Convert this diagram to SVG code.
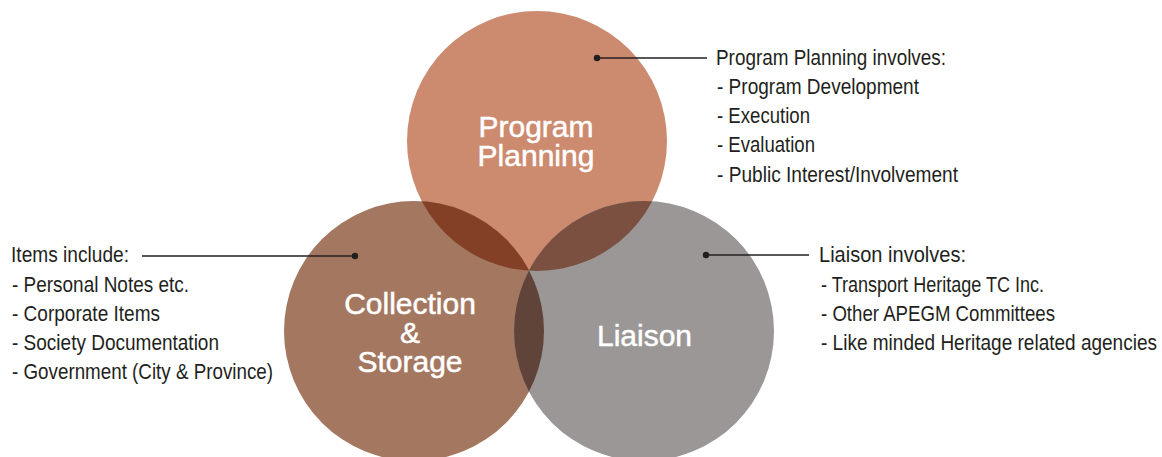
<svg xmlns="http://www.w3.org/2000/svg" width="1162" height="457" viewBox="0 0 1162 457">
<style>
.lbl{font-family:"Liberation Sans",Arial,sans-serif;font-size:30px;fill:#ffffff;stroke:#ffffff;stroke-width:0.5;text-anchor:middle}
.note{font-family:"Liberation Sans",Arial,sans-serif;font-size:22px;fill:#231f20}
.lead{stroke:#231f20;stroke-width:1.6;fill:none}
.dot{fill:#231f20}
</style>
<defs>
<clipPath id="clipA"><circle cx="537" cy="141" r="130"/></clipPath>
<clipPath id="clipB"><circle cx="414" cy="331" r="130"/></clipPath>
</defs>
<rect width="1162" height="457" fill="#ffffff"/>
<g id="node-program-planning">
<circle cx="537" cy="141" r="130" fill="#cc8a6f"/>
</g>
<g id="node-collection-storage">
<circle cx="414" cy="331" r="130" fill="#a47760"/>
</g>
<g id="node-liaison">
<circle cx="644" cy="331" r="130" fill="#9a9796"/>
</g>
<g id="overlaps">
<circle cx="414" cy="331" r="130" fill="#843f27" clip-path="url(#clipA)"/>
<circle cx="644" cy="331" r="130" fill="#7b5040" clip-path="url(#clipA)"/>
<circle cx="644" cy="331" r="130" fill="#614439" clip-path="url(#clipB)"/>
</g>
<g id="labels">
<text class="lbl" x="536" y="137">Program</text>
<text class="lbl" x="536" y="166">Planning</text>
<text class="lbl" x="410" y="314">Collection</text>
<text class="lbl" x="410" y="343">&amp;</text>
<text class="lbl" x="410" y="372">Storage</text>
<text class="lbl" x="644.5" y="346">Liaison</text>
</g>
<g id="connectors">
<line class="lead" x1="597" y1="58" x2="707" y2="58"/>
<circle class="dot" cx="597" cy="58" r="3.2"/>
<line class="lead" x1="142" y1="256" x2="355" y2="256"/>
<circle class="dot" cx="355" cy="256" r="3.2"/>
<line class="lead" x1="706" y1="255" x2="809" y2="255"/>
<circle class="dot" cx="706" cy="255" r="3.2"/>
</g>
<g id="note-program">
<text class="note" x="716" y="65" textLength="230" lengthAdjust="spacingAndGlyphs">Program Planning involves:</text>
<text class="note" x="717" y="94" textLength="202" lengthAdjust="spacingAndGlyphs">- Program Development</text>
<text class="note" x="717" y="123" textLength="93" lengthAdjust="spacingAndGlyphs">- Execution</text>
<text class="note" x="717" y="152" textLength="98" lengthAdjust="spacingAndGlyphs">- Evaluation</text>
<text class="note" x="717" y="181.5" textLength="241" lengthAdjust="spacingAndGlyphs">- Public Interest/Involvement</text>
</g>
<g id="note-items">
<text class="note" x="11" y="262" textLength="118" lengthAdjust="spacingAndGlyphs">Items include:</text>
<text class="note" x="12" y="291.5" textLength="177" lengthAdjust="spacingAndGlyphs">- Personal Notes etc.</text>
<text class="note" x="12" y="320.5" textLength="148" lengthAdjust="spacingAndGlyphs">- Corporate Items</text>
<text class="note" x="12" y="350" textLength="207" lengthAdjust="spacingAndGlyphs">- Society Documentation</text>
<text class="note" x="12" y="379" textLength="261" lengthAdjust="spacingAndGlyphs">- Government (City &amp; Province)</text>
</g>
<g id="note-liaison">
<text class="note" x="819" y="262" textLength="147" lengthAdjust="spacingAndGlyphs">Liaison involves:</text>
<text class="note" x="821" y="291.5" textLength="223" lengthAdjust="spacingAndGlyphs">- Transport Heritage TC Inc.</text>
<text class="note" x="821" y="320.5" textLength="234" lengthAdjust="spacingAndGlyphs">- Other APEGM Committees</text>
<text class="note" x="821" y="350" textLength="336" lengthAdjust="spacingAndGlyphs">- Like minded Heritage related agencies</text>
</g>
</svg>
